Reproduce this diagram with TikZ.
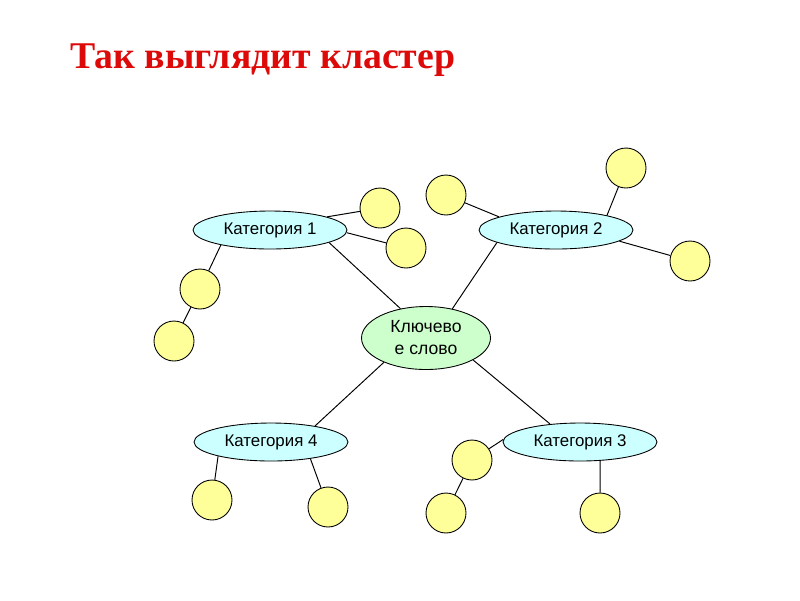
\documentclass[tikz,border=0pt]{standalone}
\usepackage{fontspec}
\setmainfont{Liberation Serif}
\setsansfont{Liberation Sans}
\usetikzlibrary{shapes.geometric}
\definecolor{clusterRed}{HTML}{DD0A0A}
\definecolor{clusterCyan}{HTML}{CCFFFF}
\definecolor{clusterGreen}{HTML}{CCFFCC}
\definecolor{clusterYellow}{HTML}{FFFF99}

\begin{document}
\begin{tikzpicture}[
  x=0.02cm, y=-0.02cm,
  cat/.style={ellipse, draw, fill=clusterCyan, inner sep=0pt, line width=0.5pt,
              minimum width=3.08cm, minimum height=0.76cm,
              font=\sffamily\fontsize{9.6}{11}\selectfont},
  key/.style={ellipse, draw, fill=clusterGreen, inner sep=0pt, line width=0.5pt, align=center,
              minimum width=2.58cm, minimum height=1.26cm,
              font=\sffamily\fontsize{10}{12.5}\selectfont},
  leaf/.style={circle, draw, fill=clusterYellow, inner sep=0pt, line width=0.5pt,
              minimum size=0.8cm},
  ln/.style={draw, line width=0.55pt}
]
\useasboundingbox (0,0) rectangle (800,600);

% ---- title
\node[anchor=base west, inner sep=0pt, text=clusterRed,
      font=\bfseries\fontsize{21.5}{26}\selectfont] (title) at (70,68) {Так выглядит кластер};

% ---- centre and categories
\node[key] (key)  at (426,338) {Ключево\\е слово};
\node[cat] (cat1) at (270,230) {Категория 1};
\node[cat] (cat2) at (556,230) {Категория 2};
\node[cat] (cat3) at (580,442) {Категория 3};
\node[cat] (cat4) at (271,442) {Категория 4};

% ---- leaves
\node[leaf] (l1a) at (380,208) {};
\node[leaf] (l1b) at (406,248) {};
\node[leaf] (l1c) at (200,289) {};
\node[leaf] (l1d) at (174,341) {};
\node[leaf] (l2a) at (446,195) {};
\node[leaf] (l2b) at (626,168) {};
\node[leaf] (l2c) at (690,261) {};
\node[leaf] (l3a) at (472,460) {};
\node[leaf] (l3b) at (446,513) {};
\node[leaf] (l3c) at (600,513) {};
\node[leaf] (l4a) at (212,500) {};
\node[leaf] (l4b) at (328,507) {};

% ---- centre to categories
\draw[ln] (cat1.-12) -- (key.131);
\draw[ln] (cat2.192) -- (key.48);
\draw[ln] (cat3.149) -- (key.-25);
\draw[ln] (cat4.20)  -- (key.210);

% ---- categories to leaves
\draw[ln] (cat1.13)  -- (l1a);
\draw[ln] (cat1.-2)  -- (l1b);
\draw[ln] (cat1.197) -- (l1c);
\draw[ln] (l1c) -- (l1d);
\draw[ln] (cat2.167) -- (l2a);
\draw[ln] (cat2.16)  -- (l2b);
\draw[ln] (cat2.-10) -- (l2c);
\draw[ln] (cat3.178) -- (l3a);
\draw[ln] (l3a) -- (l3b);
\draw[ln] (cat3.-43) -- (l3c);
\draw[ln] (cat4.195) -- (l4a);
\draw[ln] (cat4.-23) -- (l4b);
\end{tikzpicture}
\end{document}
